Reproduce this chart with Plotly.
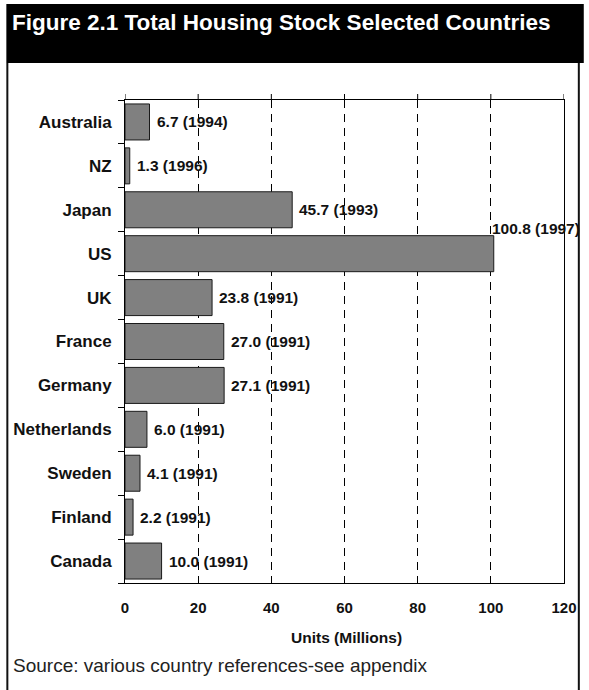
import plotly.graph_objects as go

# Housing stock by country (millions of dwellings) and the survey year
countries = ["Australia", "NZ", "Japan", "US", "UK", "France", "Germany",
             "Netherlands", "Sweden", "Finland", "Canada"]
stock_millions = [6.7, 1.3, 45.7, 100.8, 23.8, 27.0, 27.1, 6.0, 4.1, 2.2, 10.0]
survey_year = [1994, 1996, 1993, 1997, 1991, 1991, 1991, 1991, 1991, 1991, 1991]
x_ticks = [0, 20, 40, 60, 80, 100, 120]

W, H = 589, 690
ML, MR, MT, MB = 125, 20, 100, 107
PW, PH = W - ML - MR, H - MT - MB
FONT = "Liberation Sans, Arial, sans-serif"


def px_x(px):
    return (px - ML) / PW


def px_y(py):
    return 1 - (py - MT) / PH


fig = go.Figure(go.Bar(
    x=stock_millions,
    y=countries,
    orientation="h",
    marker=dict(color="#808080", line=dict(color="#1a1a1a", width=1)),
    hoverinfo="skip",
))

# value labels: the longest bar has its label lifted above the bar end
label_offsets = {"US": (-4, 25)}
annotations = []
for c, v, yr in zip(countries, stock_millions, survey_year):
    dx, dy = label_offsets.get(c, (5, 0))
    annotations.append(dict(
        x=v, y=c, xref="x", yref="y", text=f"<b>{v:.1f} ({yr})</b>",
        xanchor="left", yanchor="middle", xshift=dx, yshift=dy,
        showarrow=False, font=dict(family=FONT, size=15.5, color="#111"),
    ))

annotations += [
    dict(xref="paper", yref="paper", x=px_x(9), y=px_y(23),
         xanchor="left", yanchor="middle", showarrow=False,
         text="<b>Figure 2.1 Total Housing Stock Selected Countries</b>",
         font=dict(family=FONT, size=22.5, color="white")),
    dict(xref="paper", yref="paper", x=px_x(349), y=px_y(637),
         xanchor="center", yanchor="middle", showarrow=False,
         text="<b>Units (Millions)</b>",
         font=dict(family=FONT, size=15.5, color="#111")),
    dict(xref="paper", yref="paper", x=px_x(10), y=px_y(665),
         xanchor="left", yanchor="middle", showarrow=False,
         text="Source: various country references-see appendix",
         font=dict(family=FONT, size=19, color="#222")),
]

shapes = [
    # black header band
    dict(type="rect", xref="paper", yref="paper", x0=px_x(5), x1=px_x(W),
         y0=px_y(63), y1=px_y(4), fillcolor="black", line=dict(width=0),
         layer="below"),
    # side frame lines of the panel
    dict(type="line", xref="paper", yref="paper", x0=px_x(6), x1=px_x(6),
         y0=px_y(63), y1=px_y(H), line=dict(color="#111", width=2)),
    dict(type="line", xref="paper", yref="paper", x0=px_x(584), x1=px_x(584),
         y0=px_y(63), y1=px_y(H), line=dict(color="#111", width=2)),
]
# short tick marks above the top edge of the plot
for t in x_ticks:
    shapes.append(dict(type="line", xref="x", yref="paper", x0=t, x1=t,
                       y0=1, y1=1 + 6 / PH, line=dict(color="black", width=1)))

fig.update_layout(
    width=W, height=H,
    margin=dict(l=ML, r=MR, t=MT, b=MB),
    paper_bgcolor="white", plot_bgcolor="white",
    showlegend=False, bargap=0.18,
    font=dict(family=FONT, color="#111"),
    annotations=annotations, shapes=shapes,
    xaxis=dict(
        range=[0, 120], tickvals=x_ticks, ticktext=[f"<b>{t}</b>" for t in x_ticks],
        tickfont=dict(size=15), ticks="", ticklabelstandoff=11,
        showline=True, linecolor="black", linewidth=1, mirror=True,
        showgrid=True, gridcolor="black", gridwidth=1, griddash="8px,6px",
        zeroline=False, fixedrange=True,
    ),
    yaxis=dict(
        categoryorder="array", categoryarray=countries, autorange="reversed",
        tickvals=countries, ticktext=[f"<b>{c}</b>" for c in countries],
        tickfont=dict(size=17), ticks="outside", ticklen=6, tickcolor="black",
        tickson="boundaries", ticklabelstandoff=9,
        showline=True, linecolor="black", linewidth=1, mirror=True,
        showgrid=False, zeroline=False, fixedrange=True,
    ),
)

fig.write_html("out.html")
